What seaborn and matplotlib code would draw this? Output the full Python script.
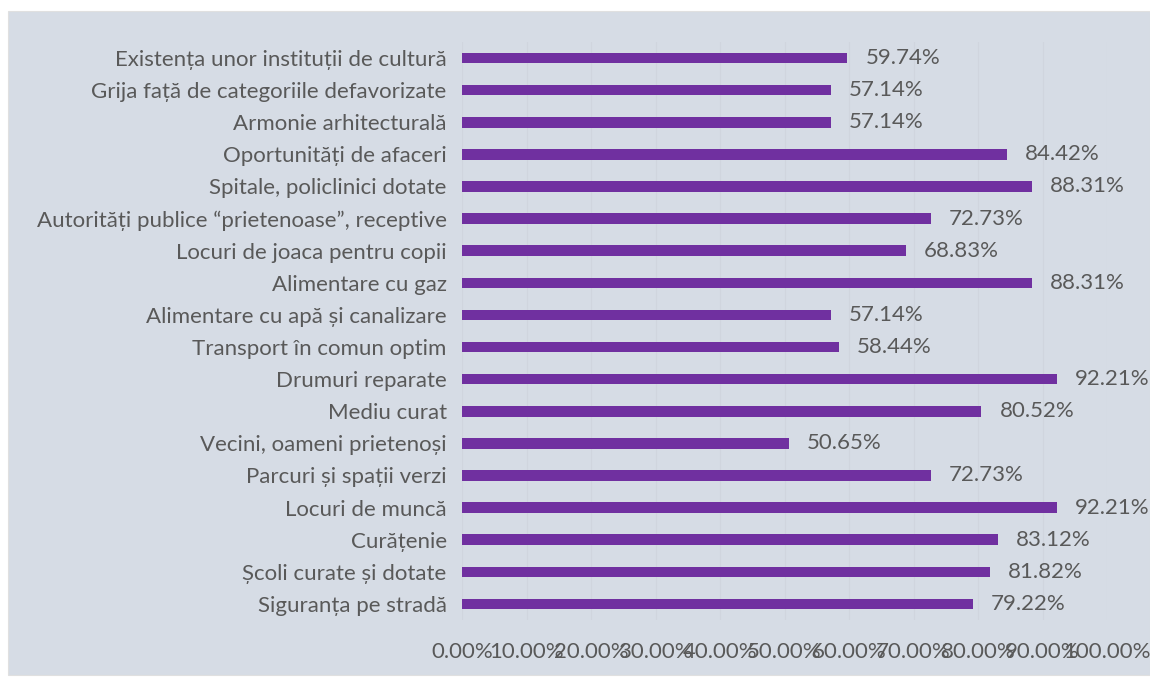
import matplotlib
matplotlib.use("Agg")
import matplotlib.pyplot as plt
import matplotlib.patches as mpatches
import seaborn as sns
import pandas as pd

# data, top to bottom as shown in the chart
categories = [
    "Existența unor instituții de cultură",
    "Grija față de categoriile defavorizate",
    "Armonie arhitecturală",
    "Oportunități de afaceri",
    "Spitale, policlinici dotate",
    "Autorități publice “prietenoase”, receptive",
    "Locuri de joaca pentru copii",
    "Alimentare cu gaz",
    "Alimentare cu apă și canalizare",
    "Transport în comun optim",
    "Drumuri reparate",
    "Mediu curat",
    "Vecini, oameni prietenoși",
    "Parcuri și spații verzi",
    "Locuri de muncă",
    "Curățenie",
    "Școli curate și dotate",
    "Siguranța pe stradă",
]
values = [59.74, 57.14, 57.14, 84.42, 88.31, 72.73, 68.83, 88.31, 57.14,
          58.44, 92.21, 80.52, 50.65, 72.73, 92.21, 83.12, 81.82, 79.22]
xticks = [0, 10, 20, 30, 40, 50, 60, 70, 80, 90, 100]

df = pd.DataFrame({"cat": categories, "val": values})

sns.set_theme(style="white")
plt.rcParams["font.family"] = ["Lato", "DejaVu Sans"]

bg = "#d6dce5"
text_col = "#595959"
bar_col = "#7030a0"
fs = 16

fig = plt.figure(figsize=(11.5, 6.78), dpi=100, facecolor="white")
# gray panel behind the chart
fig.patches.append(mpatches.Rectangle((8 / 1150, 1 - 675 / 678), 1 - 8 / 1150, (675 - 11) / 678,
                                      transform=fig.transFigure, facecolor=bg,
                                      edgecolor="#e0e0e0", linewidth=0.8, zorder=-5))

ax = fig.add_axes([462 / 1150, 1 - 620 / 678, (1107 - 462) / 1150, (620 - 42) / 678])
ax.set_facecolor("none")

sns.barplot(data=df, x="val", y="cat", orient="h", color=bar_col, width=0.33,
            saturation=1, linewidth=0, ax=ax, zorder=3)

for c in ax.containers:
    ax.bar_label(c, labels=[f"{v:.2f}%" for v in values], padding=13,
                 fontsize=fs, color=text_col)

ax.set_xlim(0, 100)
ax.set_ylim(17.5, -0.5)
ax.set_xticks(xticks)
ax.set_xticklabels([f"{t:.2f}%" for t in xticks])
ax.set_xlabel("")
ax.set_ylabel("")
ax.xaxis.grid(True, color="#d0d5de", linewidth=0.8, zorder=0)
ax.tick_params(axis="x", length=0, pad=16, labelsize=fs, labelcolor=text_col)
ax.tick_params(axis="y", length=0, pad=11, labelsize=fs, labelcolor=text_col)
for s in ax.spines.values():
    s.set_visible(False)

fig.savefig("out.png", dpi=100, facecolor="white")
